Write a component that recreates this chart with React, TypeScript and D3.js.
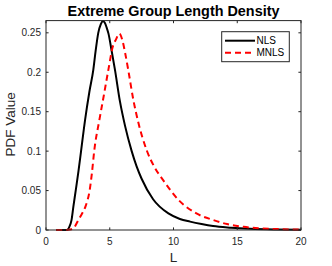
import React from "react";
import * as d3 from "d3";

// NLS (black solid) and MNLS (red dashed) density curves
const nlsL = [0.8, 1.2, 1.6, 1.7, 1.83, 2.0, 2.15, 2.33, 2.55, 2.75, 3.06, 3.4, 3.71, 3.9, 4.1, 4.3, 4.45, 4.6, 4.75, 4.9, 5.15, 5.41, 5.8, 6.2, 6.72, 7.1, 7.5, 8.4, 9.6, 10.5, 11.3, 12.2, 13.1, 14.5, 16, 18, 20];
const nlsPdf = [0, 0, 0, 0.0005, 0.004, 0.0125, 0.03, 0.05, 0.075, 0.1, 0.139, 0.175, 0.203, 0.228, 0.25, 0.261, 0.265, 0.263, 0.257, 0.249, 0.227, 0.203, 0.163, 0.132, 0.1, 0.081, 0.065, 0.039, 0.021, 0.014, 0.0106, 0.0075, 0.005, 0.003, 0.0016, 0.0007, 0.0003];

const mnlsL = [0.8, 1.5, 2.0, 2.2, 2.54, 2.8, 3.1, 3.42, 3.6, 3.78, 4.18, 4.55, 4.89, 5.23, 5.5, 5.75, 6.0, 6.2, 6.45, 6.85, 7.2, 7.9, 8.5, 9.2, 10.4, 11.8, 13.1, 14.2, 15.5, 17, 18.5, 20];
const mnlsPdf = [0, 0, 0.001, 0.003, 0.0127, 0.02, 0.03, 0.05, 0.072, 0.1, 0.139, 0.172, 0.203, 0.232, 0.242, 0.249, 0.24, 0.225, 0.203, 0.165, 0.139, 0.101, 0.08, 0.063, 0.038, 0.021, 0.0127, 0.0075, 0.004, 0.002, 0.001, 0.0005];

const xTicks = [0, 5, 10, 15, 20];
const yTicks = [0, 0.05, 0.1, 0.15, 0.2, 0.25];
const yTickLabels = ["0", "0.05", "0.1", "0.15", "0.2", "0.25"];

const seriesNames = ["NLS", "MNLS"];

export default function App() {
  const W = 332;
  const H = 266;
  const left = 46;
  const right = 301;
  const top = 20.6;
  const bottom = 230;
  const axisColor = "#262626";
  const font = "Arial, 'Liberation Sans', Helvetica, sans-serif";

  const x = d3.scaleLinear().domain([0, 20]).range([left, right]);
  const y = d3.scaleLinear().domain([0, 0.2655]).range([bottom, top]);

  const line = d3
    .line<[number, number]>()
    .x((d) => x(d[0]))
    .y((d) => y(d[1]))
    .curve(d3.curveMonotoneX);

  const nls = nlsL.map((v, i) => [v, nlsPdf[i]] as [number, number]);
  const mnls = mnlsL.map((v, i) => [v, mnlsPdf[i]] as [number, number]);

  const tick = 2.6;

  return (
    <svg
      width={W}
      height={H}
      style={{ position: "absolute", left: 0, top: 0, background: "#fff" }}
      fontFamily={font}
    >
      <rect x={0} y={0} width={W} height={H} fill="#fff" />
      <defs>
        <clipPath id="plot-clip">
          <rect x={left} y={top - 1} width={right - left} height={bottom - top + 2} />
        </clipPath>
      </defs>

      {/* curves */}
      <g clipPath="url(#plot-clip)">
        <path d={line(nls) || ""} fill="none" stroke="#000" strokeWidth={2} />
        <path
          d={line(mnls) || ""}
          fill="none"
          stroke="#ff0000"
          strokeWidth={2}
          strokeDasharray="6,4"
        />
      </g>

      {/* box */}
      <rect
        x={left}
        y={top}
        width={right - left}
        height={bottom - top}
        fill="none"
        stroke={axisColor}
        strokeWidth={1}
      />

      {/* x ticks */}
      {xTicks.map((t) => (
        <g key={"x" + t}>
          <line x1={x(t)} x2={x(t)} y1={bottom} y2={bottom - tick} stroke={axisColor} />
          <line x1={x(t)} x2={x(t)} y1={top} y2={top + tick} stroke={axisColor} />
          <text
            x={x(t)}
            y={245}
            textAnchor="middle"
            fontSize={10}
            fill={axisColor}
          >
            {t}
          </text>
        </g>
      ))}

      {/* y ticks */}
      {yTicks.map((t, i) => (
        <g key={"y" + t}>
          <line x1={left} x2={left + tick} y1={y(t)} y2={y(t)} stroke={axisColor} />
          <line x1={right} x2={right - tick} y1={y(t)} y2={y(t)} stroke={axisColor} />
          <text
            x={41}
            y={y(t)}
            dy="0.35em"
            textAnchor="end"
            fontSize={10}
            fill={axisColor}
          >
            {yTickLabels[i]}
          </text>
        </g>
      ))}

      {/* title and labels */}
      <text
        x={(left + right) / 2}
        y={15.5}
        textAnchor="middle"
        fontSize={14.4}
        fontWeight="bold"
        fill="#000"
      >
        Extreme Group Length Density
      </text>
      <text
        x={(left + right) / 2}
        y={262}
        textAnchor="middle"
        fontSize={13.5}
        fill={axisColor}
      >
        L
      </text>
      <text
        transform={`translate(15, ${(top + bottom) / 2 - 1}) rotate(-90)`}
        textAnchor="middle"
        fontSize={13.5}
        fill={axisColor}
      >
        PDF Value
      </text>

      {/* legend */}
      <g>
        <rect
          x={221.7}
          y={31.7}
          width={67.6}
          height={30}
          fill="#fff"
          stroke={axisColor}
          strokeWidth={1}
        />
        <line x1={225} x2={255} y1={40.7} y2={40.7} stroke="#000" strokeWidth={2} />
        <text x={256.5} y={40.7} dy="0.35em" fontSize={10} fill="#000">
          {seriesNames[0]}
        </text>
        <line
          x1={225}
          x2={255}
          y1={52.7}
          y2={52.7}
          stroke="#ff0000"
          strokeWidth={2}
          strokeDasharray="6,4"
        />
        <text x={256.5} y={52.7} dy="0.35em" fontSize={10} fill="#000">
          {seriesNames[1]}
        </text>
      </g>
    </svg>
  );
}
